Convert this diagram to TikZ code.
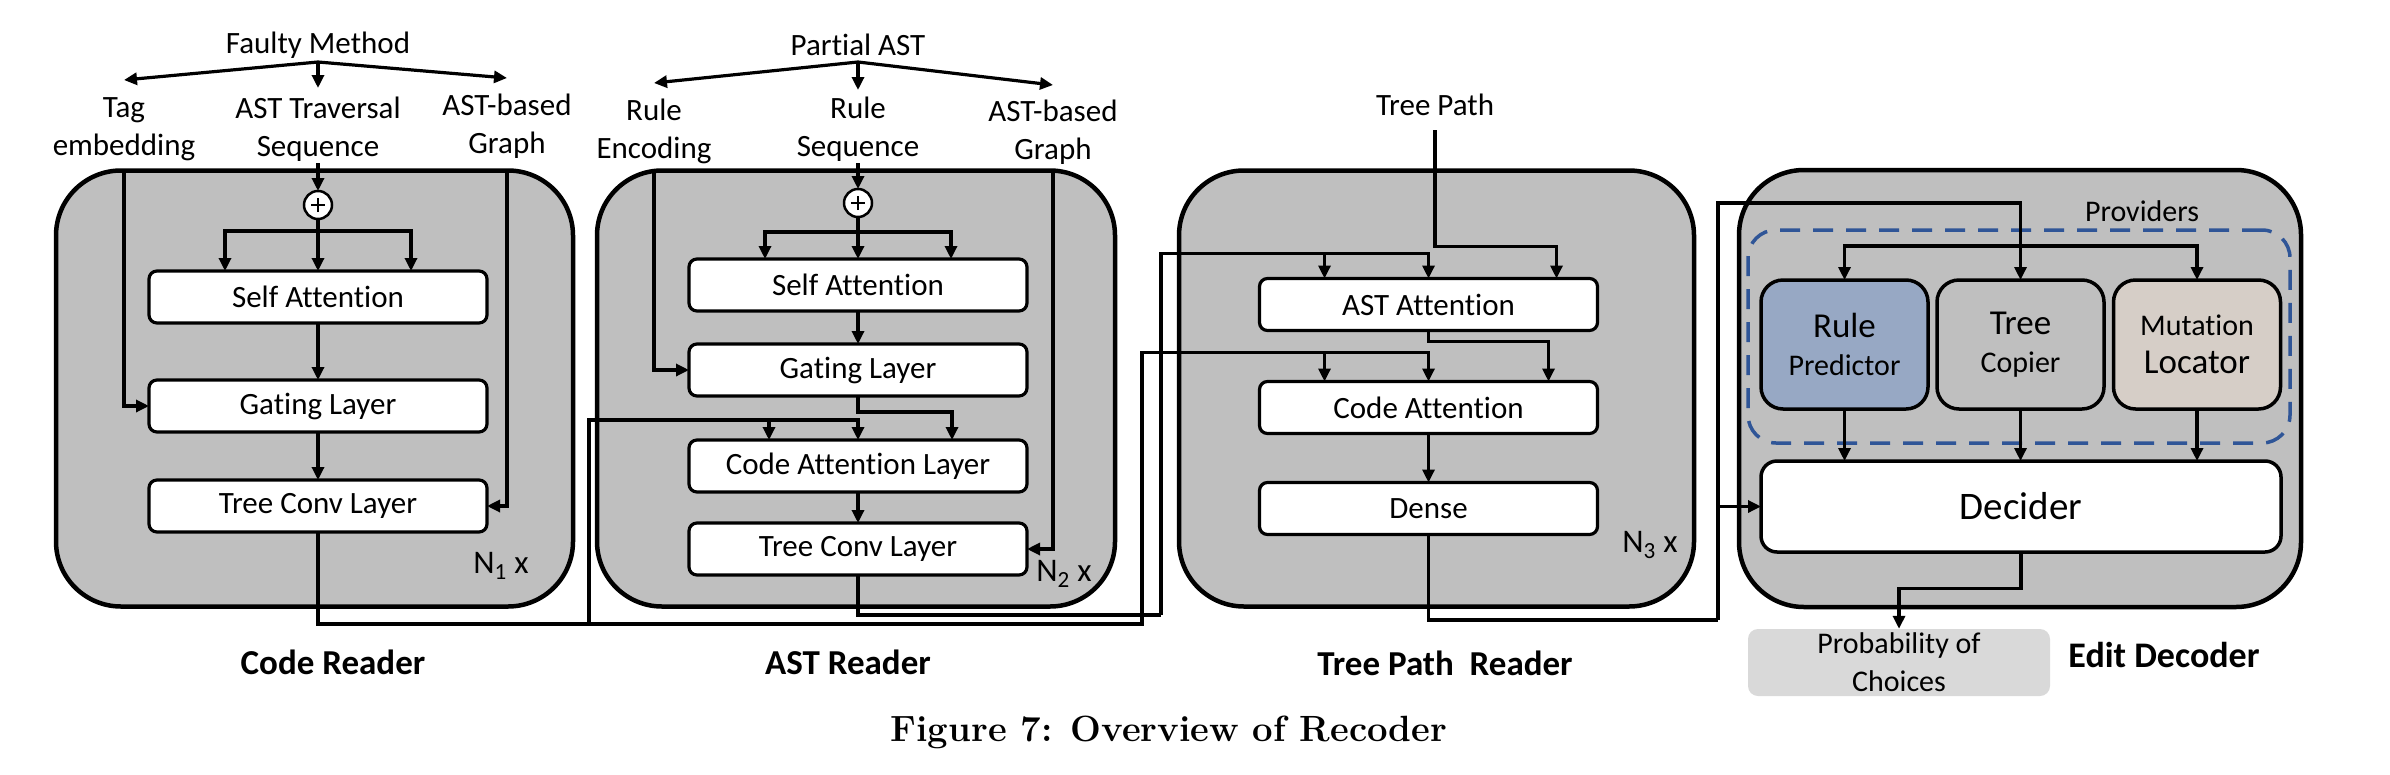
\documentclass[tikz,border=0pt]{standalone}
\usepackage{fontspec}
\newfontfamily\calfont{Carlito}[Ligatures=NoCommon]
\usetikzlibrary{arrows.meta}

\definecolor{readergray}{RGB}{191,191,191}
\definecolor{rulefill}{RGB}{151,168,196}
\definecolor{mutfill}{RGB}{214,206,199}
\definecolor{probfill}{RGB}{217,217,217}
\definecolor{provblue}{RGB}{47,85,151}

\tikzset{
    reader/.style={draw, line width=4.5pt, fill=readergray, rounded corners=65pt, inner sep=0pt, outer sep=0pt, minimum height=436pt},
    layer/.style={draw, line width=3.2pt, fill=white, rounded corners=8pt, inner sep=0pt, outer sep=0pt,
        minimum width=338pt, minimum height=52pt, font=\calfont\fontsize{31}{38}\selectfont},
    provider/.style={draw, line width=3.5pt, rounded corners=22pt, inner sep=0pt, outer sep=0pt,
        minimum width=167pt, minimum height=129pt, align=center, font=\calfont\fontsize{30}{38}\selectfont},
    txt/.style={inner sep=0pt, align=center, font=\calfont\fontsize{31}{38}\selectfont},
    title/.style={inner sep=0pt, font=\calfont\bfseries\fontsize{35}{40}\selectfont},
    nlabel/.style={inner sep=0pt, font=\calfont\fontsize{33}{38}\selectfont},
    adder/.style={circle, draw, line width=2.5pt, fill=white, minimum size=28pt, inner sep=0pt, outer sep=0pt,
        path picture={\draw[line width=2pt]
            ([xshift=-7pt]path picture bounding box.center) -- ([xshift=7pt]path picture bounding box.center)
            ([yshift=-7pt]path picture bounding box.center) -- ([yshift=7pt]path picture bounding box.center);}},
    flow/.style={line width=3.2pt, -{Triangle[length=13pt,width=12pt]}},
    wire/.style={line width=3.2pt},
}

\begin{document}
\begin{tikzpicture}[x=1pt, y=-1pt]
    \useasboundingbox (0,0) rectangle (2390,774);

    % Code Reader
    \node[reader, minimum width=517pt] (codebox) at (314.5,388.5) {};
    \node[txt] (faulty) at (318,45) {Faulty Method};
    \node[txt] (tag) at (124,129) {Tag\\embedding};
    \node[txt] (trav) at (318,129) {AST Traversal\\Sequence};
    \node[txt] (cgraph) at (507,126) {AST-based\\Graph};
    \node[adder] (cplus) at (318,205) {};
    \node[layer] (cself) at (318,297) {Self Attention};
    \node[layer] (cgate) at (318,406) {Gating Layer};
    \node[layer] (ctree) at (318,506) {Tree Conv Layer};
    \node[nlabel] (cn) at (501,566) {N\textsubscript{1} x};
    \node[title] (ctitle) at (333,662) {Code Reader};

    \coordinate (cfork) at ([yshift=-17pt]faulty.center);
    \coordinate (csplit) at (318,231);
    \draw[flow] (cfork) -- ([yshift=49pt]tag.center);
    \draw[flow] (cfork) -- ([yshift=41pt]trav.center);
    \draw[flow] (cfork) -- ([yshift=48pt]cgraph.center);
    \draw[flow] ([yshift=-34pt]trav.center) -- (cplus);
    \draw[flow] (cplus) -- (cself);
    \draw[flow] (csplit) -| ([xshift=-93pt]cself.north);
    \draw[flow] (csplit) -| ([xshift=93pt]cself.north);
    \draw[flow] (tag |- codebox.north) |- (cgate.west);
    \draw[flow] (cgraph |- codebox.north) |- (ctree.east);
    \draw[flow] (cself) -- (cgate);
    \draw[flow] (cgate) -- (ctree);

    % AST Reader
    \node[reader, minimum width=518pt] (astbox) at (856,388.5) {};
    \node[txt] (partial) at (858,45) {Partial AST};
    \node[txt] (renc) at (654,131) {Rule\\Encoding};
    \node[txt] (rseq) at (858,129) {Rule\\Sequence};
    \node[txt] (agraph) at (1053,132) {AST-based\\Graph};
    \node[adder] (aplus) at (858,203) {};
    \node[layer] (aself) at (858,285) {Self Attention};
    \node[layer] (agate) at (858,370) {Gating Layer};
    \node[layer] (acode) at (858,466) {Code Attention Layer};
    \node[layer] (atree) at (858,549) {Tree Conv Layer};
    \node[nlabel] (an) at (1064,574) {N\textsubscript{2} x};
    \node[title] (atitle) at (848,662) {AST Reader};

    \coordinate (afork) at ([yshift=-17pt]partial.center);
    \coordinate (asplit) at (858,232);
    \draw[flow] (afork) -- ([yshift=48pt]renc.center);
    \draw[flow] (afork) -- ([yshift=39pt]rseq.center);
    \draw[flow] (afork) -- ([yshift=47pt]agraph.center);
    \draw[flow] ([yshift=-34pt]rseq.center) -- (aplus);
    \draw[flow] (aplus) -- (aself);
    \draw[flow] (asplit) -| ([xshift=-93pt]aself.north);
    \draw[flow] (asplit) -| ([xshift=93pt]aself.north);
    \draw[flow] (renc |- astbox.north) |- (agate.west);
    \draw[flow] (agraph |- astbox.north) |- (atree.east);
    \draw[flow] (aself) -- (agate);
    \draw[flow] (agate.south) |- ([xshift=94pt,yshift=28pt]acode.north) -- ([xshift=94pt]acode.north);
    \draw[flow] (acode) -- (atree);

    % Tree Path Reader
    \node[reader, minimum width=515pt] (pathbox) at (1436.5,388.5) {};
    \node[txt] (tpath) at (1435,105) {Tree Path};
    \node[layer] (tast) at (1428.5,304.5) {AST Attention};
    \node[layer] (tcode) at (1428.5,407.5) {Code Attention};
    \node[layer] (tdense) at (1428.5,508.5) {Dense};
    \node[nlabel] (tn) at (1650,545) {N\textsubscript{3} x};
    \node[title] (ttitle) at (1445,663) {Tree Path~ Reader};

    \draw[flow] ([yshift=-25pt]tpath.center) |- ([xshift=128pt,yshift=32pt]tast.north) -- ([xshift=128pt]tast.north);
    \draw[flow] (tast.south) |- ([xshift=120pt,yshift=40pt]tcode.north) -- ([xshift=120pt]tcode.north);
    \draw[flow] (tcode) -- (tdense);

    % Edit Decoder
    \node[reader, minimum width=562pt, minimum height=437pt] (editbox) at (2020,388.5) {};
    \node[draw=provblue, dash pattern=on 20pt off 13pt, line width=3.5pt, rounded corners=28pt,
        minimum width=542pt, minimum height=213pt, inner sep=0pt] (providers) at (2019,336.5) {};
    \node[txt, font=\calfont\fontsize{30}{36}\selectfont] (provtxt) at (2142,211) {Providers};
    \node[provider, fill=rulefill] (rule) at (1844.5,344.5)
        {{\fontsize{35}{38}\selectfont Rule}\\Predictor};
    \node[provider, fill=readergray] (copier) at (2020.5,344.5)
        {{\fontsize{35}{38}\selectfont Tree}\\Copier};
    \node[provider, fill=mutfill] (mutation) at (2197,344.5)
        {Mutation\\{\fontsize{35}{38}\selectfont Locator}};
    \node[layer, line width=3.5pt, rounded corners=16pt, minimum width=520pt, minimum height=91pt,
        font=\calfont\fontsize{39}{44}\selectfont] (decider) at (2021,506.5) {Decider};
    \node[txt, fill=probfill, rounded corners=10pt, minimum width=302pt, minimum height=67pt,
        font=\calfont\fontsize{30}{38}\selectfont] (prob) at (1899,662.5) {Probability of\\Choices};
    \node[title, font=\calfont\bfseries\fontsize{36}{40}\selectfont] (etitle) at (2164,655) {Edit Decoder};

    \draw[flow] ([yshift=34pt]copier.north) -| (rule.north);
    \draw[flow] ([yshift=34pt]copier.north) -| (mutation.north);
    \draw[flow] (rule) -- (rule |- decider.north);
    \draw[flow] (copier) -- (copier |- decider.north);
    \draw[flow] (mutation) -- (mutation |- decider.north);
    \draw[flow] (decider.south) |- ([yshift=40pt]prob.north) -- (prob.north);

    % Connections between readers
    \coordinate (cout) at (589,624);
    \coordinate (cturn) at (1142,624);
    \coordinate (aout) at (1161,615);
    \coordinate (dout) at (1718,620);
    \draw[wire] (ctree.south) |- (cout);
    \draw[flow] (cout) |- ([yshift=20pt]acode.north) -- (acode.north);
    \draw[flow] ([xshift=-89pt,yshift=20pt]acode.north) -- ([xshift=-89pt]acode.north);
    \draw[flow] (cout) -- (cturn) |- ([yshift=29pt]tcode.north) -- (tcode.north);
    \draw[flow] ([xshift=-104pt,yshift=29pt]tcode.north) -- ([xshift=-104pt]tcode.north);
    \draw[wire] (atree.south) |- (aout);
    \draw[flow] (aout) |- ([yshift=25pt]tast.north) -- (tast.north);
    \draw[flow] ([xshift=-104pt,yshift=25pt]tast.north) -- ([xshift=-104pt]tast.north);
    \draw[wire] (tdense.south) |- (dout);
    \draw[flow] (dout) |- (decider.west);
    \draw[flow] (dout) |- ([yshift=77pt]copier.north) -- (copier.north);

    % Caption
    \node[inner sep=0pt, font=\bfseries\fontsize{36.5}{40}\selectfont] (caption) at (1169,732) {Figure 7: Overview of Recoder};
\end{tikzpicture}
\end{document}
